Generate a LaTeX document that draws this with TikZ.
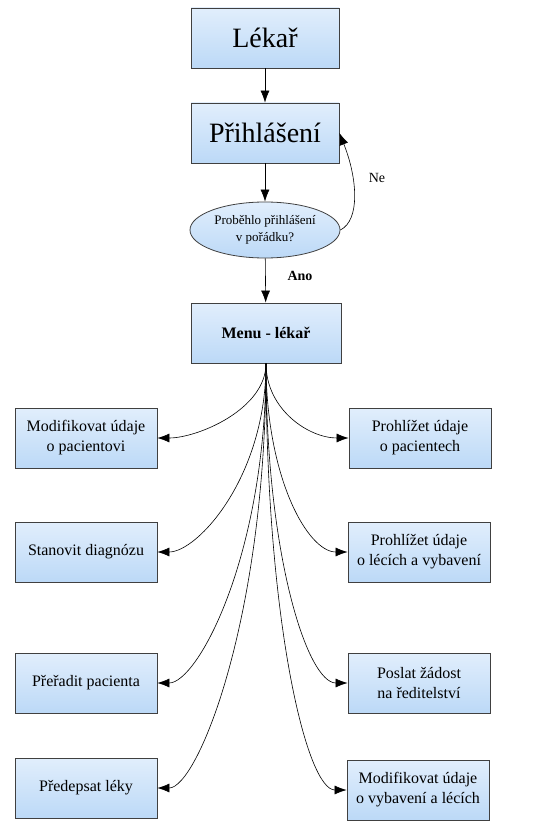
\documentclass[tikz,border=0pt]{standalone}
\usepackage{fontspec}
\setmainfont{Liberation Serif}
\usetikzlibrary{arrows.meta,shapes.geometric}

\definecolor{boxblue}{RGB}{188,217,247}
\definecolor{boxlight}{RGB}{225,238,252}

\tikzset{
  krok/.style={draw=black!75, line width=0.8pt, top color=boxlight, bottom color=boxblue,
    minimum width=148pt, minimum height=60pt, inner sep=2pt, align=center},
  velky/.style={krok, font=\fontsize{28}{32}\selectfont},
  volba/.style={krok, minimum width=142pt, font=\fontsize{16}{20}\selectfont},
  dotaz/.style={ellipse, draw=black!75, line width=0.8pt, top color=boxlight, bottom color=boxblue,
    minimum width=150pt, minimum height=56pt, inner sep=0pt, align=center,
    font=\fontsize{13}{17}\selectfont},
  sipka/.style={-{Latex[length=12pt,width=9pt]}, line width=0.6pt}
}

\begin{document}
\begin{tikzpicture}[x=1pt, y=-1pt]
  \useasboundingbox (0,0) rectangle (550,834);
  % hlavni cast
  \node[velky] (lekar) at (265,38) {Lékař};
  \node[velky] (prihlaseni) at (265,133) {Přihlášení};
  \node[dotaz] (dotaz) at (265,230) {Proběhlo přihlášení\\v pořádku?};
  \node[krok, minimum width=150pt, font=\fontsize{16}{20}\selectfont\bfseries] (menu) at (266,333) {Menu - lékař};
  \draw[sipka] (lekar) -- (prihlaseni);
  \draw[sipka] (prihlaseni) -- (dotaz);
  \draw[sipka] (dotaz) -- (menu);
  \node[font=\fontsize{14}{16}\selectfont\bfseries] (ano) at (300,276) {Ano};
  \draw[sipka] (dotaz.east) .. controls +(20,-10) and +(18,45) .. (prihlaseni.east);
  \node[font=\fontsize{14}{16}\selectfont] (ne) at (377,178) {Ne};
  % volby vlevo
  \node[volba] (modpac) at (86,438) {Modifikovat údaje\\o pacientovi};
  \node[volba] (diagnoza) at (86,552) {Stanovit diagnózu};
  \node[volba] (preradit) at (86,683) {Přeřadit pacienta};
  \node[volba] (leky) at (86,788) {Předepsat léky};
  % volby vpravo
  \node[volba] (prohlpac) at (420,438) {Prohlížet údaje\\o pacientech};
  \node[volba] (prohlvyb) at (419,552) {Prohlížet údaje\\o lécích a vybavení};
  \node[volba] (zadost) at (419,683) {Poslat žádost\\na ředitelství};
  \node[volba] (modvyb) at (418,790) {Modifikovat údaje\\o vybavení a lécích};
  % sipky z menu
  \draw[sipka] (menu.south) .. controls +(0,46) and +(40,0) .. (modpac.east);
  \draw[sipka] (menu.south) .. controls +(0,114) and +(40,0) .. (diagnoza.east);
  \draw[sipka] (menu.south) .. controls +(0,193) and +(40,0) .. (preradit.east);
  \draw[sipka] (menu.south) .. controls +(0,256) and +(40,0) .. (leky.east);
  \draw[sipka] (menu.south) .. controls +(0,46) and +(-40,0) .. (prohlpac.west);
  \draw[sipka] (menu.south) .. controls +(0,114) and +(-40,0) .. (prohlvyb.west);
  \draw[sipka] (menu.south) .. controls +(0,193) and +(-40,0) .. (zadost.west);
  \draw[sipka] (menu.south) .. controls +(0,258) and +(-40,0) .. (modvyb.west);
\end{tikzpicture}
\end{document}
